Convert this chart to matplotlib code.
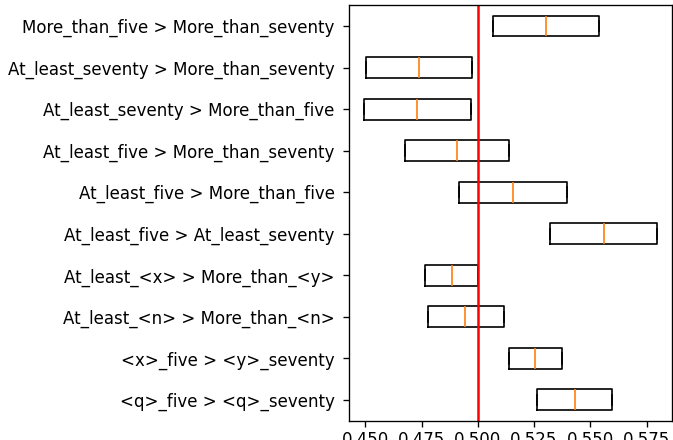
import matplotlib

matplotlib.use("Agg")
import matplotlib.pyplot as plt

# bottom to top (boxplot position 1 is the lowest row)
labels = [
    "<q>_five > <q>_seventy",
    "<x>_five > <y>_seventy",
    "At_least_<n> > More_than_<n>",
    "At_least_<x> > More_than_<y>",
    "At_least_five > At_least_seventy",
    "At_least_five > More_than_five",
    "At_least_five > More_than_seventy",
    "At_least_seventy > More_than_five",
    "At_least_seventy > More_than_seventy",
    "More_than_five > More_than_seventy",
]
q1 = [0.5262, 0.5140, 0.4778, 0.4765, 0.5319, 0.4917, 0.4678, 0.4493, 0.4503, 0.5066]
med = [0.5431, 0.5256, 0.4943, 0.4886, 0.5559, 0.5155, 0.4907, 0.4731, 0.4737, 0.5304]
q3 = [0.5598, 0.5374, 0.5116, 0.5003, 0.5798, 0.5395, 0.5140, 0.4971, 0.4975, 0.5538]
chance = 0.5

stats = [
    {"label": lab, "q1": a, "med": m, "q3": b, "whislo": a, "whishi": b, "fliers": []}
    for lab, a, m, b in zip(labels, q1, med, q3)
]

DPI = 120
fig = plt.figure(figsize=(673 / DPI, 440 / DPI), dpi=DPI)
ax = fig.add_axes([0.5186, 0.044, 0.4799, 0.944])
ax.bxp(stats, orientation="horizontal", showfliers=False)
ax.axvline(chance, color="red", linewidth=1.5)
ax.set_xticks([0.450, 0.475, 0.500, 0.525, 0.550, 0.575])
ax.tick_params(axis="y", pad=5)
ax.tick_params(axis="x", pad=2.5)
fig.savefig("out.png", dpi=DPI)
